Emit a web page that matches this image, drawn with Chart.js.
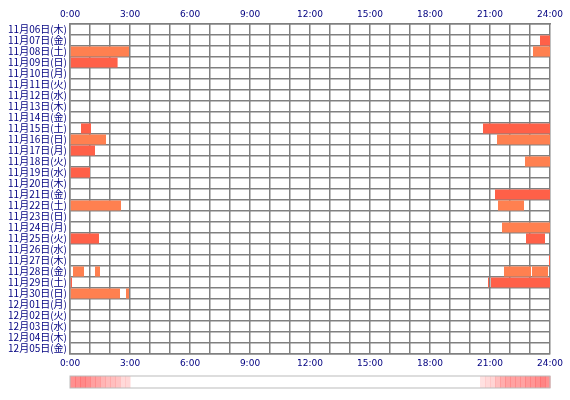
<!DOCTYPE html>
<html>
<head>
<meta charset="utf-8">
<script src="https://cdn.jsdelivr.net/npm/chart.js@4/dist/chart.umd.min.js"></script>
<style>
  body { margin: 0; background: #fff; }
  #wrap { width: 570px; height: 400px; }
</style>
</head>
<body>
<div id="wrap"><canvas id="chart"></canvas></div>
<script>
const days = ['11月06日(木)','11月07日(金)','11月08日(土)','11月09日(日)','11月10日(月)','11月11日(火)',
  '11月12日(水)','11月13日(木)','11月14日(金)','11月15日(土)','11月16日(日)','11月17日(月)',
  '11月18日(火)','11月19日(水)','11月20日(木)','11月21日(金)','11月22日(土)','11月23日(日)',
  '11月24日(月)','11月25日(火)','11月26日(水)','11月27日(木)','11月28日(金)','11月29日(土)',
  '11月30日(日)','12月01日(月)','12月02日(火)','12月03日(水)','12月04日(木)','12月05日(金)'];

// active periods per day, in hours [start, end]
const sessions = [
  [], [[23.5, 24]], [[0, 2.95], [23.15, 24]], [[0, 2.38]], [], [], [], [], [],
  [[0.55, 1.05], [20.65, 24]], [[0, 1.8], [21.35, 24]], [[0, 1.25]], [[22.75, 24]],
  [[0, 1.0]], [], [[21.25, 24]], [[0, 2.55], [21.4, 22.7]], [], [[21.6, 24]],
  [[0, 1.45], [22.8, 23.75]], [], [[23.95, 24]],
  [[0.15, 0.7], [1.25, 1.5], [21.7, 23.05], [23.1, 23.9]],
  [[0, 0.1], [20.9, 20.95], [21.05, 24]], [[0, 2.5], [2.8, 2.95]], [], [], [], [], []
];
// 0 = coral, 1 = tomato
const dayColor = [0,1,0,1,0,0,0,0,0,1,0,1,0,1,0,1,0,0,0,1,0,1,0,1,0,0,0,0,0,0];
const colors = ['#FF8050', '#FF6048'];

const maxSeg = Math.max(...sessions.map(s => s.length));
const datasets = [];
for (let k = 0; k < maxSeg; k++) {
  datasets.push({
    data: sessions.map(s => s[k] || null),
    backgroundColor: dayColor.map(c => colors[c]),
    barPercentage: 0.92,
    categoryPercentage: 1,
    grouped: false
  });
}

// summary strip below the chart
const stripPlugin = {
  id: 'strip',
  afterDraw(chart) {
    const ctx = chart.ctx;
    const x = chart.scales.x;
    const top = 376, h = 12;
    const bins = 96;
    const counts = new Array(bins).fill(0);
    sessions.forEach(s => s.forEach(([a, b]) => {
      for (let i = 0; i < bins; i++) {
        const t0 = i * 24 / bins, t1 = (i + 1) * 24 / bins;
        const ov = Math.min(b, t1) - Math.max(a, t0);
        if (ov > 0) counts[i] += ov / (t1 - t0);
      }
    }));
    const maxC = Math.max(...counts);
    for (let i = 0; i < bins; i++) {
      if (!counts[i]) continue;
      const a = x.getPixelForValue(i * 24 / bins), b = x.getPixelForValue((i + 1) * 24 / bins);
      ctx.fillStyle = 'rgba(255,80,80,' + (0.15 + 0.55 * counts[i] / maxC) + ')';
      ctx.fillRect(a, top, b - a + 0.5, h);
    }
    ctx.strokeStyle = '#bbb';
    ctx.lineWidth = 1;
    ctx.strokeRect(x.left, top, x.right - x.left, h);
  }
};

const tickOpts = {
  color: '#000080',
  font: { family: 'DejaVu Sans', size: 9 },
  autoSkip: false,
  maxRotation: 0,
  padding: 4,
  callback: v => v % 3 === 0 ? v + ':00' : ''
};

new Chart(document.getElementById('chart'), {
  type: 'bar',
  data: { labels: days, datasets: datasets },
  options: {
    indexAxis: 'y',
    responsive: true,
    maintainAspectRatio: false,
    animation: false,
    layout: { padding: { right: 20 } },
    plugins: { legend: { display: false }, tooltip: { enabled: false } },
    scales: {
      x: {
        min: 0, max: 24,
        ticks: Object.assign({ stepSize: 1 }, tickOpts),
        grid: { color: '#808080', lineWidth: 1.5, drawTicks: false },
        border: { color: '#808080', width: 1.5 },
        afterFit: s => { s.height = 46; }
      },
      x2: {
        position: 'top',
        min: 0, max: 24,
        ticks: Object.assign({ stepSize: 1 }, tickOpts),
        grid: { display: false, drawTicks: false },
        border: { color: '#808080', width: 1.5 },
        afterFit: s => { s.height = 24; }
      },
      y: {
        ticks: {
          color: '#000080',
          font: { family: 'Noto Sans CJK JP', size: 10 },
          autoSkip: false,
          padding: 3
        },
        grid: { color: '#808080', lineWidth: 1.5, drawTicks: false, offset: true },
        border: { color: '#808080', width: 1.5 },
        afterFit: s => { s.width = 70; }
      }
    }
  },
  plugins: [stripPlugin]
});
</script>
</body>
</html>
